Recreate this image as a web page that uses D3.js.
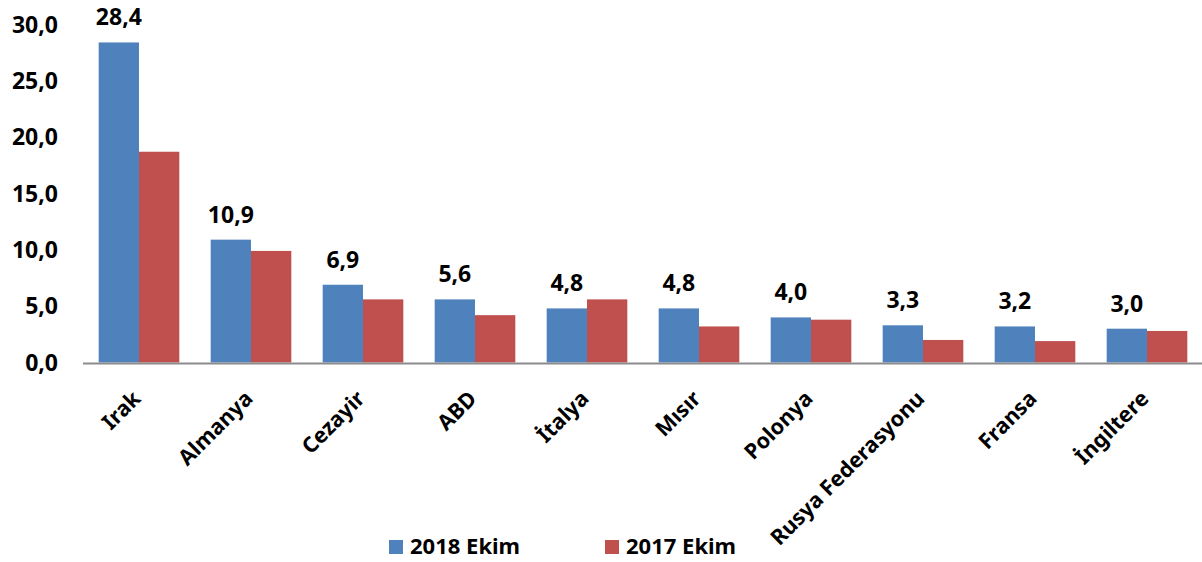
<!DOCTYPE html>
<html>
<head>
<meta charset="utf-8">
<script src="https://cdn.jsdelivr.net/npm/d3@7"></script>
<style>
  body { margin: 0; background: #fff; }
  text { font-family: "Noto Sans", "Open Sans", sans-serif; font-weight: bold; fill: #000; }
</style>
</head>
<body>
<div id="chart"></div>
<script>
var svg_width = 1202;
var svg_height = 562;

var countries = ["Irak", "Almanya", "Cezayir", "ABD", "İtalya", "Mısır", "Polonya", "Rusya Federasyonu", "Fransa", "İngiltere"];
var series = ["2018 Ekim", "2017 Ekim"];
var values2018 = [28.4, 10.9, 6.9, 5.6, 4.8, 4.8, 4.0, 3.3, 3.2, 3.0];
var values2017 = [18.7, 9.9, 5.6, 4.2, 5.6, 3.2, 3.8, 2.0, 1.9, 2.8];
var yTicks = [0, 5, 10, 15, 20, 25, 30];
var colors = ["#4f81bd", "#c0504d"];

var fmt = function (v) { return v.toFixed(1).replace(".", ","); };

var rows = countries.map(function (c, i) {
  return { country: c, vals: [values2018[i], values2017[i]] };
});

var svg = d3.select("#chart")
    .append("svg")
    .attr("width", svg_width)
    .attr("height", svg_height);

var x0 = d3.scaleBand()
    .domain(countries)
    .range([83, 1203])
    .paddingInner(0.28)
    .paddingOuter(0.14);

var x1 = d3.scaleBand()
    .domain([0, 1])
    .range([0, x0.bandwidth()]);

var y = d3.scaleLinear()
    .domain([0, 30])
    .range([362.5, 24.4]);

// y tick labels
svg.append("g")
  .selectAll("text")
  .data(yTicks)
  .join("text")
    .attr("x", 58)
    .attr("y", function (d) { return y(d); })
    .attr("dy", "0.36em")
    .attr("text-anchor", "end")
    .style("font-size", "23px")
    .text(function (d) { return fmt(d); });

// bars
var groups = svg.append("g")
  .selectAll("g")
  .data(rows)
  .join("g")
    .attr("transform", function (d) { return "translate(" + x0(d.country) + ",0)"; });

groups.selectAll("rect")
  .data(function (d) { return d.vals; })
  .join("rect")
    .attr("x", function (d, i) { return x1(i); })
    .attr("y", function (d) { return y(d); })
    .attr("width", x1.bandwidth())
    .attr("height", function (d) { return y(0) - y(d); })
    .attr("fill", function (d, i) { return colors[i]; });

// value labels on 2018 bars
groups.append("text")
    .attr("x", x1(0) + x1.bandwidth() / 2)
    .attr("y", function (d) { return y(d.vals[0]) - 17; })
    .attr("text-anchor", "middle")
    .style("font-size", "23px")
    .text(function (d) { return fmt(d.vals[0]); });

// x axis line
svg.append("line")
    .attr("x1", 83)
    .attr("x2", 1202)
    .attr("y1", y(0) + 1)
    .attr("y2", y(0) + 1)
    .attr("stroke", "#8c8c8c")
    .attr("stroke-width", 2);

// category labels
svg.append("g")
  .selectAll("text")
  .data(countries)
  .join("text")
    .attr("transform", function (d) {
      return "translate(" + (x0(d) + x0.bandwidth() / 2 + 3) + ",400) rotate(-45)";
    })
    .attr("text-anchor", "end")
    .style("font-size", "21.5px")
    .text(function (d) { return d; });

// legend
var legend = svg.append("g")
  .selectAll("g")
  .data(series)
  .join("g")
    .attr("transform", function (d, i) { return "translate(" + (389 + i * 216) + ",540)"; });

legend.append("rect")
    .attr("width", 14)
    .attr("height", 14)
    .attr("fill", function (d, i) { return colors[i]; });

legend.append("text")
    .attr("x", 21)
    .attr("y", 14)
    .style("font-size", "22px")
    .text(function (d) { return d; });
</script>
</body>
</html>
